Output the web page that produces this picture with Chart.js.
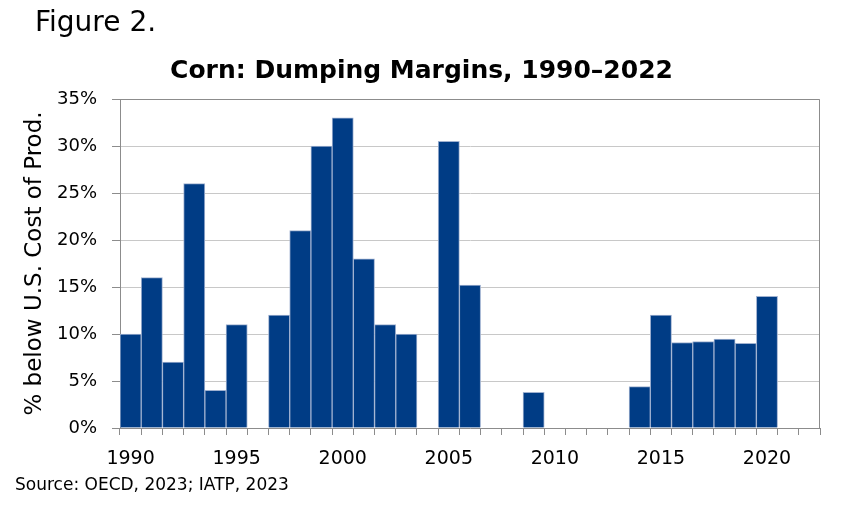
<!DOCTYPE html>
<html><head><meta charset="utf-8">
<script src="https://cdn.jsdelivr.net/npm/chart.js@4"></script>
<style>
html,body{margin:0;padding:0;background:#fff;}
#wrap{position:relative;width:843px;height:506px;overflow:hidden;}
canvas{position:absolute;left:0;top:0;}
#fig{position:absolute;left:35px;top:8px;font:28px 'DejaVu Sans';line-height:28px;color:#000;white-space:nowrap;}
#src{position:absolute;left:15px;top:474px;font:17px 'DejaVu Sans';line-height:20px;color:#000;white-space:nowrap;}
</style></head><body>
<div id="wrap"><canvas id="c" width="843" height="506"></canvas>
<div id="fig">Figure 2.</div>
<div id="src">Source: OECD, 2023; IATP, 2023</div></div>
<script>
const years = [1990,1991,1992,1993,1994,1995,1996,1997,1998,1999,2000,2001,2002,2003,2004,2005,2006,2007,2008,2009,2010,2011,2012,2013,2014,2015,2016,2017,2018,2019,2020,2021,2022];
const margins = [10,16,7,26,4,11,null,12,21,30,33,18,11,10,null,30.5,15.2,null,null,3.8,null,null,null,null,4.4,12,9.1,9.2,9.45,9.0,14.0,null,null];
const labeledYears = [1990,1995,2000,2005,2010,2015,2020];
const yMin = 0, yMax = 35, yStep = 5;
const titleText = 'Corn: Dumping Margins, 1990\u20132022';
const yTitle = '% below U.S. Cost of Prod.';

Chart.defaults.font.family = "'DejaVu Sans'";
Chart.defaults.color = '#000';

const plotBorder = {
  id: 'plotBorder',
  afterDraw(chart) {
    const {ctx, chartArea: a} = chart;
    ctx.save();
    ctx.strokeStyle = '#8c8c8c';
    ctx.lineWidth = 1;
    ctx.beginPath();
    ctx.moveTo(Math.round(a.left) + 0.5, Math.round(a.top) + 0.5);
    ctx.lineTo(Math.round(a.right) - 0.5, Math.round(a.top) + 0.5);
    ctx.lineTo(Math.round(a.right) - 0.5, Math.round(a.bottom));
    ctx.stroke();
    ctx.restore();
  }
};

new Chart(document.getElementById('c'), {
  type: 'bar',
  data: {
    labels: years.map(String),
    datasets: [{
      data: margins,
      backgroundColor: '#003c85',
      borderColor: '#9fb1d0',
      borderWidth: 1,
      barPercentage: 1,
      categoryPercentage: 1
    }]
  },
  options: {
    responsive: false,
    animation: false,
    layout: {padding: {left: 23, right: 23, top: 0, bottom: 0}},
    plugins: {
      legend: {display: false},
      tooltip: {enabled: false},
      title: {
        display: true,
        text: titleText,
        font: {size: 25, weight: 'bold'},
        padding: {top: 56.5, bottom: 12.5},
        color: '#000'
      }
    },
    scales: {
      x: {
        offset: true,
        grid: {offset: true, drawOnChartArea: false, drawTicks: true, tickLength: 7, tickColor: '#8c8c8c', lineWidth: 1},
        border: {display: true, color: '#8c8c8c', width: 1},
        ticks: {
          autoSkip: false, maxRotation: 0, minRotation: 0, padding: 13,
          font: {size: 19},
          callback: function(v, i) { return labeledYears.includes(years[i]) ? String(years[i]) : ''; }
        },
        afterFit: s => { s.height = 78; }
      },
      y: {
        min: yMin, max: yMax,
        grid: {color: '#c8c8c8', lineWidth: 1, tickColor: '#8c8c8c', tickLength: 8},
        border: {display: true, color: '#8c8c8c', width: 1},
        ticks: {stepSize: yStep, padding: 15, font: {size: 18}, callback: v => v + '%'},
        title: {display: true, text: yTitle, font: {size: 23}, padding: {top: -2, bottom: 0}, color: '#000'},
        afterFit: s => { s.width = 97; }
      }
    }
  },
  plugins: [plotBorder]
});
</script>
</body></html>
